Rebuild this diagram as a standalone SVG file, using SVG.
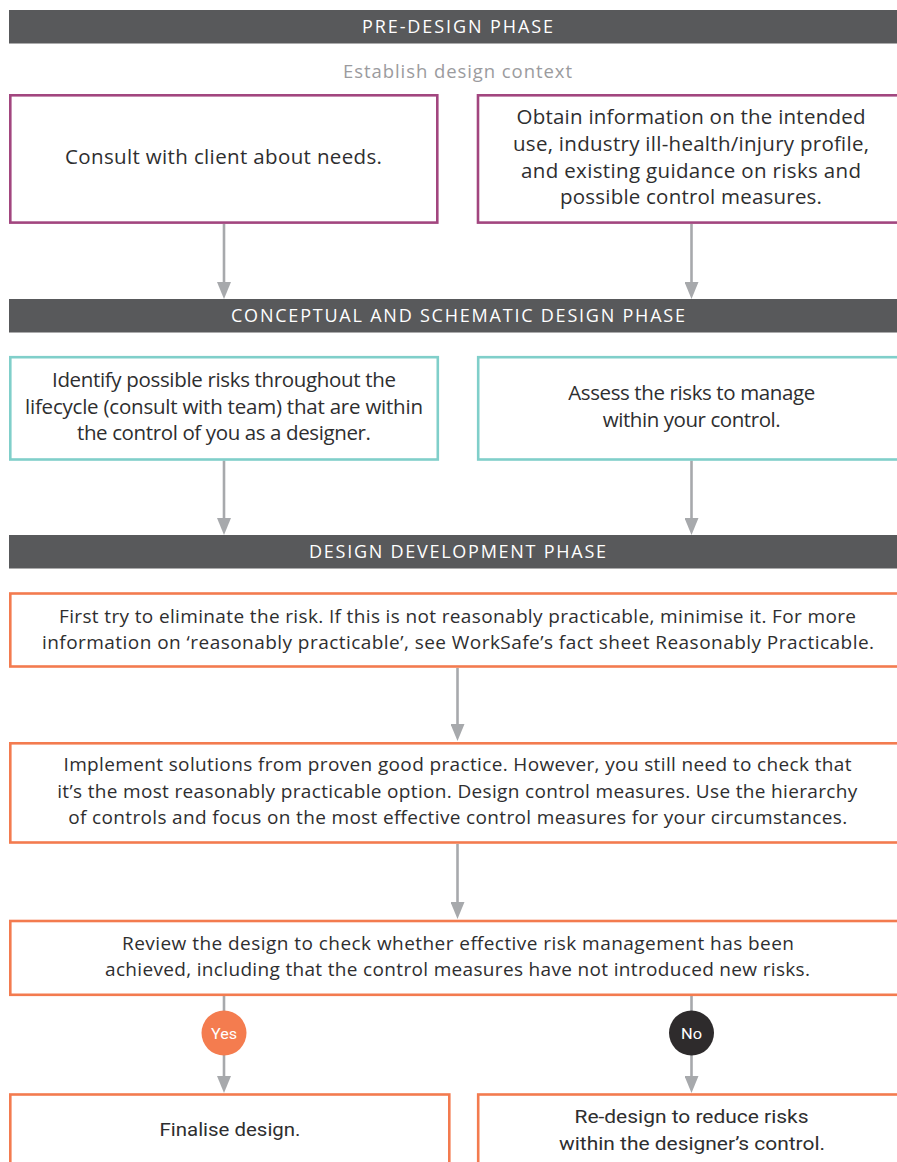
<svg xmlns="http://www.w3.org/2000/svg" width="897" height="1162" viewBox="0 0 897 1162">
<style>
.bg{fill:#ffffff}
.hdr rect{fill:#58595b}
.hdr text{fill:#ffffff;font-family:'Open Sans','Liberation Sans',sans-serif;font-size:18px;font-weight:500;text-anchor:middle}
.box{fill:#ffffff;stroke-width:2.6}
.purple{stroke:#a2467f}
.teal{stroke:#80cfca}
.orange{stroke:#f37b4f}
.t{fill:#2e2e2f;font-family:'Open Sans','Liberation Sans',sans-serif;font-weight:500;text-anchor:middle}
.big{font-size:20.5px}
.mid{font-size:19px}
.cond{fill:#2e2e2f;font-family:Roboto,'Liberation Sans',sans-serif;font-size:19px;text-anchor:middle}
.sub{fill:#9b9b9e;font-family:'Open Sans','Liberation Sans',sans-serif;font-size:18.5px;font-weight:500;text-anchor:middle}
.conn line{stroke:#a7a9ac;stroke-width:2.6;fill:none}
.arr{marker-end:url(#ah)}
.badge text{fill:#ffffff;font-family:Roboto,'Liberation Sans',sans-serif;font-size:15px;text-anchor:middle}
</style>
<defs>
<marker id="ah" markerUnits="userSpaceOnUse" viewBox="0 0 17 14" refX="0" refY="7" markerWidth="17" markerHeight="14" orient="auto">
<path d="M0,0 L17,7 L0,14 z" fill="#a7a9ac"/>
</marker>
</defs>
<rect class="bg" x="0" y="0" width="897" height="1162"/>

<g id="hdr-predesign" class="hdr">
<rect x="9" y="10" width="888" height="33.5"/>
<text x="457.5" y="33" textLength="191">PRE-DESIGN PHASE</text>
</g>
<g id="sub-context">
<text class="sub" x="457.5" y="78" textLength="229">Establish design context</text>
</g>

<g id="connectors" class="conn">
<line class="arr" x1="224" y1="224" x2="224" y2="282"/>
<line class="arr" x1="691.5" y1="224" x2="691.5" y2="282"/>
<line class="arr" x1="224" y1="460.5" x2="224" y2="518"/>
<line class="arr" x1="691.5" y1="460.5" x2="691.5" y2="518"/>
<line class="arr" x1="457.5" y1="668" x2="457.5" y2="724"/>
<line class="arr" x1="457.5" y1="844" x2="457.5" y2="902"/>
<line x1="224" y1="996" x2="224" y2="1011"/>
<line class="arr" x1="224" y1="1055" x2="224" y2="1076"/>
<line x1="691.5" y1="996" x2="691.5" y2="1011"/>
<line class="arr" x1="691.5" y1="1055" x2="691.5" y2="1076"/>
</g>

<g id="node-consult">
<rect class="box purple" x="10.3" y="95.3" width="427" height="127.3"/>
<text class="t big" x="223.5" y="164" textLength="317">Consult with client about needs.</text>
</g>
<g id="node-obtain">
<rect class="box purple" x="478" y="95.3" width="430" height="127.3"/>
<text class="t big" x="691" y="124" textLength="349">Obtain information on the intended</text>
<text class="t big" x="691" y="151" textLength="356">use, industry ill-health/injury profile,</text>
<text class="t big" x="691" y="178" textLength="340">and existing guidance on risks and</text>
<text class="t big" x="691" y="204" textLength="262">possible control measures.</text>
</g>

<g id="hdr-conceptual" class="hdr">
<rect x="9" y="299" width="888" height="33.5"/>
<text x="458" y="322" textLength="454">CONCEPTUAL AND SCHEMATIC DESIGN PHASE</text>
</g>

<g id="node-identify">
<rect class="box teal" x="10.3" y="357.2" width="427.5" height="102.3"/>
<text class="t big" x="224" y="387" textLength="344">Identify possible risks throughout the</text>
<text class="t big" x="224" y="413.5" textLength="398">lifecycle (consult with team) that are within</text>
<text class="t big" x="224" y="440" textLength="294">the control of you as a designer.</text>
</g>
<g id="node-assess">
<rect class="box teal" x="478.2" y="357.2" width="430" height="102.3"/>
<text class="t big" x="691.7" y="400" textLength="247">Assess the risks to manage</text>
<text class="t big" x="691.7" y="426.5" textLength="178">within your control.</text>
</g>

<g id="hdr-development" class="hdr">
<rect x="9" y="535" width="888" height="33.5"/>
<text x="457.5" y="558" textLength="297">DESIGN DEVELOPMENT PHASE</text>
</g>

<g id="node-eliminate">
<rect class="box orange" x="10.3" y="593.5" width="900" height="73"/>
<text class="t mid" x="457.5" y="622.5" textLength="797">First try to eliminate the risk. If this is not reasonably practicable, minimise it. For more</text>
<text class="t mid" x="458" y="648.5" textLength="832">information on ‘reasonably practicable’, see WorkSafe’s fact sheet Reasonably Practicable.</text>
</g>
<g id="node-implement">
<rect class="box orange" x="10.3" y="743.3" width="900" height="99.2"/>
<text class="t mid" x="457.5" y="771" textLength="788">Implement solutions from proven good practice. However, you still need to check that</text>
<text class="t mid" x="457.2" y="797.5" textLength="800">it’s the most reasonably practicable option. Design control measures. Use the hierarchy</text>
<text class="t mid" x="457.7" y="824" textLength="779">of controls and focus on the most effective control measures for your circumstances.</text>
</g>
<g id="node-review">
<rect class="box orange" x="10.3" y="921" width="900" height="73.8"/>
<text class="t mid" x="458" y="949.5" textLength="672">Review the design to check whether effective risk management has been</text>
<text class="t mid" x="457.5" y="976" textLength="705">achieved, including that the control measures have not introduced new risks.</text>
</g>

<g id="badge-yes" class="badge">
<circle cx="224" cy="1033" r="22.5" fill="#f47c4f"/>
<text x="224" y="1038.5" textLength="26" lengthAdjust="spacingAndGlyphs">Yes</text>
</g>
<g id="badge-no" class="badge">
<circle cx="691.5" cy="1033" r="22.5" fill="#2e2b2c"/>
<text x="691.5" y="1038.5" textLength="21" lengthAdjust="spacingAndGlyphs">No</text>
</g>

<g id="node-finalise">
<rect class="box orange" x="10.3" y="1094.5" width="439" height="100"/>
<text class="cond" x="230" y="1136" textLength="141" lengthAdjust="spacingAndGlyphs">Finalise design.</text>
</g>
<g id="node-redesign">
<rect class="box orange" x="478.2" y="1094.5" width="430" height="100"/>
<text class="cond" x="691.5" y="1123" textLength="234" lengthAdjust="spacingAndGlyphs">Re-design to reduce risks</text>
<text class="cond" x="692" y="1150" textLength="266" lengthAdjust="spacingAndGlyphs">within the designer’s control.</text>
</g>
</svg>
